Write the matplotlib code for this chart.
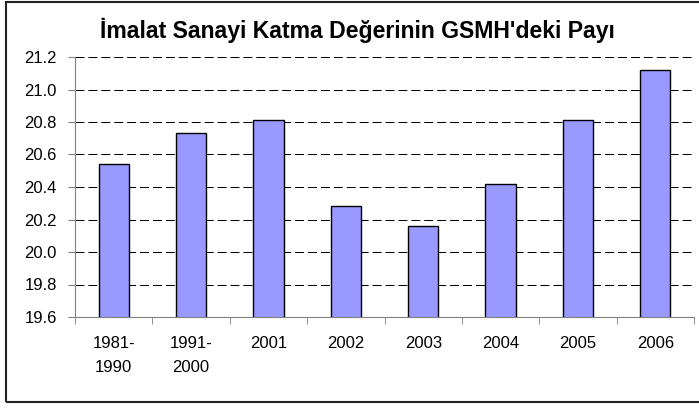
import matplotlib.pyplot as plt
import matplotlib.patches as patches
import numpy as np

plt.rcParams['font.family'] = ['Liberation Sans', 'DejaVu Sans']

categories = ['1981-\n1990', '1991-\n2000', '2001', '2002', '2003', '2004', '2005', '2006']
values = [20.54, 20.73, 20.81, 20.28, 20.16, 20.42, 20.81, 21.12]
yticks = [19.6, 19.8, 20.0, 20.2, 20.4, 20.6, 20.8, 21.0, 21.2]
title = "İmalat Sanayi Katma Değerinin GSMH'deki Payı"

W, H = 699, 408
fig = plt.figure(figsize=(W / 100, H / 100), dpi=100)
ax = fig.add_axes([75 / W, 1 - 317 / H, (694 - 75) / W, (317 - 57) / H])

# outer chart frame (right edge runs off the image)
fig.patches.append(patches.Rectangle((6 / W, 6 / H), (705 - 6) / W, 400 / H,
                                     transform=fig.transFigure, fill=False,
                                     edgecolor='#222222', linewidth=1.5))

x = np.arange(len(categories))
ax.bar(x, values, width=0.39, bottom=0, color='#9999ff', edgecolor='black',
       linewidth=1.0, zorder=3)

ax.set_xlim(-0.5, len(categories) - 0.5)
ax.set_ylim(19.6, 21.2)
ax.set_yticks(yticks)
ax.set_yticklabels(['%.1f' % v for v in yticks])

for v in yticks[1:]:
    ax.axhline(v, color='black', linewidth=0.75, linestyle=(0, (8.6, 3.8)), zorder=1)

ax.set_xticks(x)
ax.set_xticklabels(categories, linespacing=1.7)
ax.set_xticks(np.arange(-0.5, len(categories)), minor=True)
ax.tick_params(axis='x', which='major', length=0, pad=14, labelsize=12)
ax.tick_params(axis='x', which='minor', length=5, direction='out', color='#808080')
ax.tick_params(axis='y', length=5, direction='out', color='#808080', pad=8, labelsize=12)

for s in ['top', 'right']:
    ax.spines[s].set_visible(False)
for s in ['left', 'bottom']:
    ax.spines[s].set_color('#808080')
    ax.spines[s].set_zorder(4)

fig.text(357 / W, 1 - 30 / H, title, ha='center', va='center',
         fontsize=16.6, fontweight='bold')

fig.savefig('out.png', dpi=100)
